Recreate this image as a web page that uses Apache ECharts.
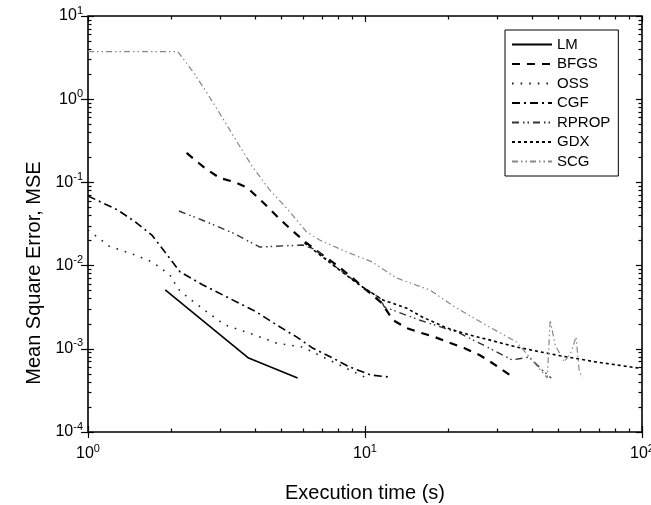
<!DOCTYPE html>
<html>
<head>
<meta charset="utf-8">
<script src="https://cdn.jsdelivr.net/npm/echarts@6/dist/echarts.min.js"></script>
<style>
html,body{margin:0;padding:0;background:#fff;}
#chart{width:651px;height:505px;}
</style>
</head>
<body>
<div id="chart"></div>
<script>
// ---- data (time in s, MSE) ----
const seriesNames = ['LM', 'BFGS', 'OSS', 'CGF', 'RPROP', 'GDX', 'SCG'];

const LM_t   = [1.90, 3.80, 5.71];
const LM_mse = [0.0051, 0.000775, 0.000446];

const BFGS_t   = [2.27, 2.64, 2.99, 3.39, 3.77, 4.27, 4.84, 5.43, 6.15, 6.86, 7.89, 9.01, 10.1, 11.5, 12.6, 14.1, 16.0, 17.8, 20.2, 22.8, 25.9, 28.8, 33.7];
const BFGS_mse = [0.226, 0.149, 0.113, 0.101, 0.0857, 0.0581, 0.0384, 0.0268, 0.0187, 0.0142, 0.0102, 0.0071, 0.00509, 0.00355, 0.00222, 0.00178, 0.00155, 0.00139, 0.00118, 0.00102, 0.000842, 0.000675, 0.000471];

const OSS_t   = [1.0, 1.19, 1.48, 1.71, 1.85, 2.02, 2.08, 2.33, 2.69, 3.12, 3.90, 4.80, 5.95, 7.45, 9.96];
const OSS_mse = [0.0268, 0.0172, 0.0134, 0.0110, 0.0091, 0.0072, 0.0055, 0.00397, 0.00277, 0.00193, 0.00151, 0.00117, 0.00105, 0.00073, 0.000458];

const CGF_t   = [1.0, 1.28, 1.5, 1.7, 1.97, 2.15, 2.6, 3.17, 4.06, 4.8, 5.66, 6.47, 7.64, 8.8, 10.5, 12.2];
const CGF_mse = [0.0687, 0.0466, 0.0325, 0.0233, 0.0123, 0.0084, 0.00585, 0.0042, 0.00277, 0.00193, 0.00139, 0.00102, 0.000775, 0.000604, 0.000484, 0.000458];

const RPROP_t   = [2.13, 2.69, 3.33, 4.17, 5.95, 6.69, 7.45, 9.8, 11.3, 11.75, 15.7, 21.9, 28.1, 34.0, 39.1, 43.6, 47.0];
const RPROP_mse = [0.0453, 0.0334, 0.0247, 0.0167, 0.0177, 0.0154, 0.0110, 0.00553, 0.00408, 0.00318, 0.00222, 0.00155, 0.00102, 0.000733, 0.000797, 0.000556, 0.000446];

const GDX_t   = [6.05, 7.03, 8.09, 9.55, 11.6, 14.1, 16.1, 19.7, 23.8, 28.1, 35.2, 49.0, 68.3, 97.0];
const GDX_mse = [0.0187, 0.0127, 0.00885, 0.00585, 0.00386, 0.00309, 0.00241, 0.00178, 0.00147, 0.00128, 0.00105, 0.000842, 0.000694, 0.000587];

const SCG_t   = [1.0, 2.11, 2.37, 2.69, 3.06, 3.47, 3.93, 4.53, 5.21, 6.15, 6.86, 8.58, 10.6, 13.0, 17.1, 21.4, 28.1, 35.2, 43.6, 45.5, 46.6, 48.6, 52.4, 55.5, 57.8, 59.3, 60.8];
const SCG_mse = [3.73, 3.73, 2.24, 1.19, 0.594, 0.298, 0.153, 0.081, 0.0492, 0.0254, 0.0203, 0.0146, 0.0111, 0.0071, 0.0051, 0.00309, 0.00183, 0.00121, 0.000526, 0.000446, 0.00222, 0.00111, 0.000694, 0.000915, 0.00139, 0.000556, 0.000446];

// ---- axes ----
const xTickLabels = [1, 10, 100];
const yTickLabels = [1e-4, 1e-3, 1e-2, 1e-1, 1, 10];
const xTitle = 'Execution time (s)';
const yTitle = 'Mean Square Error, MSE';

function minorTicks(majors) {
  const out = [];
  for (let i = 0; i < majors.length - 1; i++) {
    for (let k = 2; k <= 9; k++) out.push(majors[i] * k);
  }
  return out;
}
const xMinor = minorTicks(xTickLabels);
const yMinor = minorTicks(yTickLabels);

const FONT = 'Liberation Sans, Arial, Helvetica, sans-serif';

const times = [LM_t, BFGS_t, OSS_t, CGF_t, RPROP_t, GDX_t, SCG_t];
const mses  = [LM_mse, BFGS_mse, OSS_mse, CGF_mse, RPROP_mse, GDX_mse, SCG_mse];

const styles = {
  LM:    {color: '#000', width: 1.6, type: 'solid'},
  BFGS:  {color: '#000', width: 2.2, type: [8, 7]},
  OSS:   {color: '#222', width: 1.6, type: [1.6, 7]},
  CGF:   {color: '#000', width: 1.6, type: [8, 4, 2, 4]},
  RPROP: {color: '#333', width: 1.4, type: [7, 4, 1.5, 3, 1.5, 4]},
  GDX:   {color: '#000', width: 1.6, type: [3, 3]},
  SCG:   {color: '#888', width: 1.2, type: [6, 3, 1.5, 3, 1.5, 3]}
};

const series = seriesNames.map((n, i) => ({
  name: n,
  type: 'line',
  xAxisIndex: 0,
  yAxisIndex: 0,
  symbol: 'none',
  showSymbol: false,
  smooth: false,
  animation: false,
  silent: true,
  lineStyle: styles[n],
  itemStyle: {color: styles[n].color},
  z: 3,
  data: times[i].map((t, j) => [t, mses[i][j]])
}));

function supFormatter(v) {
  const e = Math.round(Math.log10(v));
  return '{b|10}{s|' + e + '}';
}
const rich = {
  b: {fontSize: 16, lineHeight: 22, fontFamily: FONT, color: '#000'},
  s: {fontSize: 11, lineHeight: 12, verticalAlign: 'top', fontFamily: FONT, color: '#000'}
};

function tickAxis(kind, position, values, inside, length) {
  const isX = kind === 'x';
  return {
    type: 'log', logBase: 10,
    min: isX ? 1 : 1e-4, max: isX ? 100 : 10,
    gridIndex: 0,
    position: position,
    axisLine: {show: false, onZero: false},
    splitLine: {show: false},
    axisLabel: {show: false},
    axisTick: {show: true, inside: inside, length: length, customValues: values,
               lineStyle: {color: '#000', width: 1.2}},
    silent: true
  };
}

const xMain = tickAxis('x', 'bottom', xTickLabels, false, 6);
xMain.axisLabel = {show: true, customValues: xTickLabels, formatter: supFormatter, rich: rich, margin: 11};
xMain.name = xTitle;
xMain.nameLocation = 'middle';
xMain.nameGap = 51;
xMain.nameTextStyle = {fontSize: 20, fontFamily: FONT, color: '#000'};

const yMain = tickAxis('y', 'left', yTickLabels, false, 7);
yMain.axisLabel = {show: true, customValues: yTickLabels, formatter: supFormatter, rich: rich, margin: 5};
yMain.name = yTitle;
yMain.nameLocation = 'middle';
yMain.nameGap = 34;
yMain.nameTextStyle = {fontSize: 20, fontFamily: FONT, color: '#000', padding: [0, 98, 0, 0]};

const option = {
  animation: false,
  backgroundColor: '#fff',
  textStyle: {fontFamily: FONT},
  grid: {left: 88, right: 9, top: 16, bottom: 73, show: true, borderColor: '#000', borderWidth: 1.6,
         containLabel: false, outerBoundsMode: 'none'},
  xAxis: [
    xMain,
    tickAxis('x', 'bottom', xTickLabels, true, 6),
    tickAxis('x', 'bottom', xMinor, true, 3.5),
    tickAxis('x', 'top', xTickLabels, true, 6),
    tickAxis('x', 'top', xMinor, true, 3.5)
  ],
  yAxis: [
    yMain,
    tickAxis('y', 'left', yTickLabels, true, 6),
    tickAxis('y', 'left', yMinor, true, 3.5),
    tickAxis('y', 'right', yTickLabels, true, 6),
    tickAxis('y', 'right', yMinor, true, 3.5)
  ],
  legend: {
    show: true,
    orient: 'vertical',
    left: 505,
    top: 30,
    width: 108,
    padding: [6, 8, 6, 6],
    itemGap: 2.5,
    itemWidth: 40,
    itemHeight: 14,
    borderColor: '#000',
    borderWidth: 1,
    backgroundColor: '#fff',
    selectedMode: false,
    itemStyle: {color: 'rgba(0,0,0,0)', borderWidth: 0, opacity: 0},
    textStyle: {fontSize: 15, lineHeight: 17, fontFamily: FONT, color: '#000'},
    data: seriesNames
  },
  series: series
};

const chart = echarts.init(document.getElementById('chart'), null, {renderer: 'canvas'});
chart.setOption(option);
</script>
</body>
</html>
